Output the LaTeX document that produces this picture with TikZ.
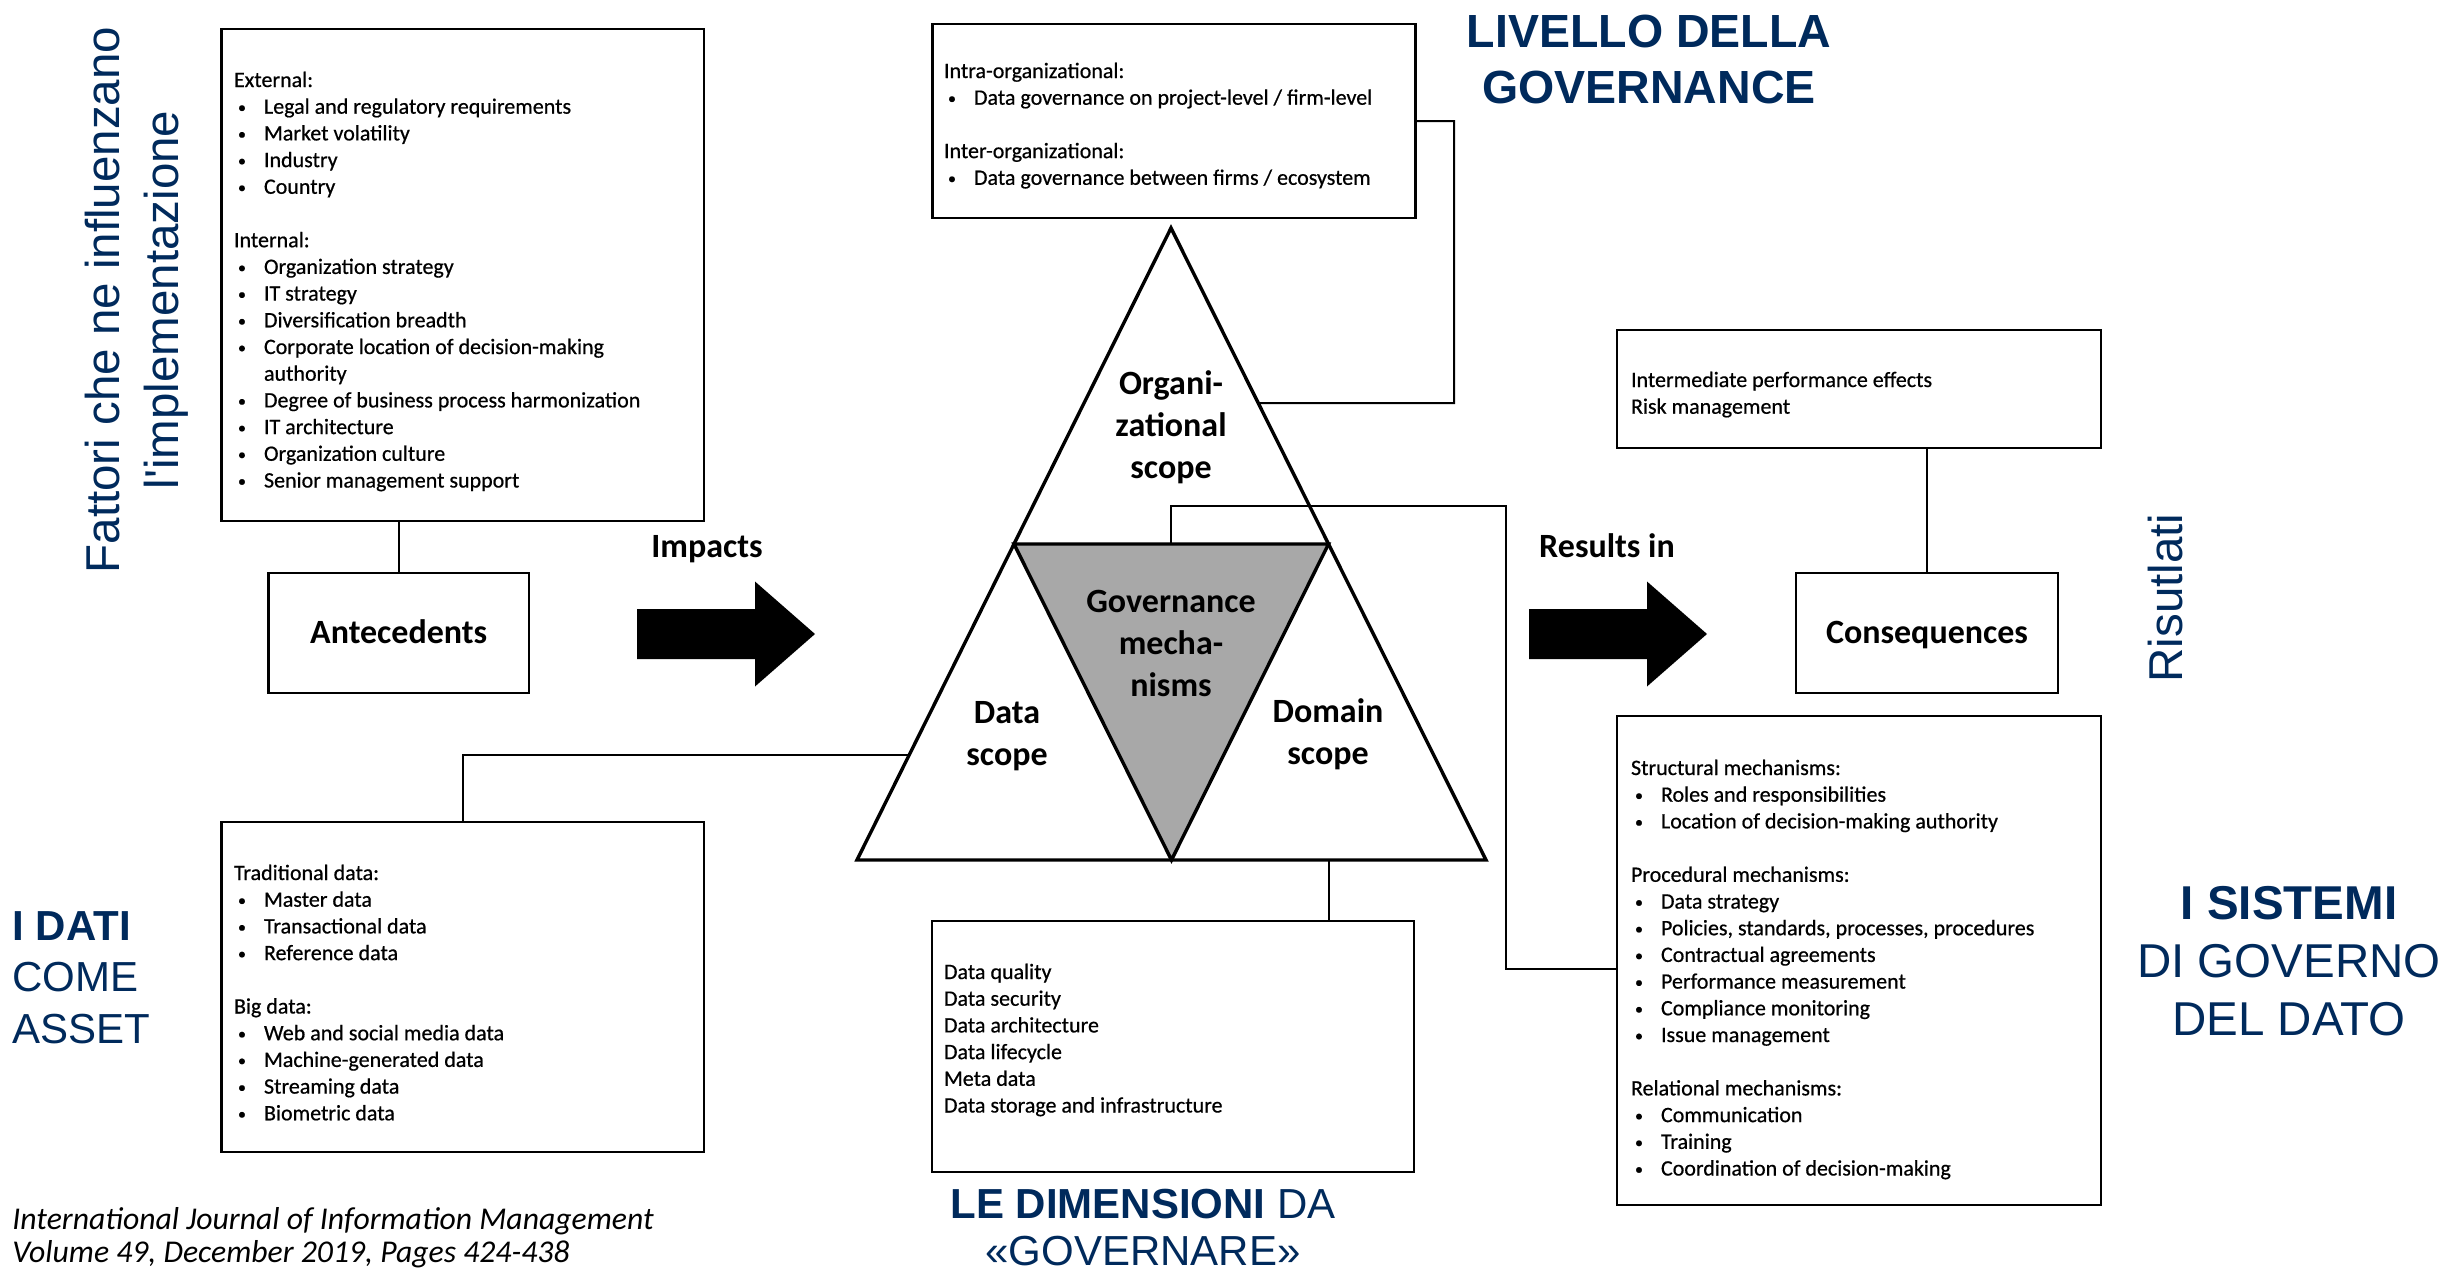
\documentclass[tikz,border=0pt]{standalone}
\usepackage{fontspec}
\setmainfont{Carlito}
\newfontfamily\arialfont{Liberation Sans}
\newfontfamily\scanfont[FakeBold=0.6]{Carlito}
\usetikzlibrary{calc}

\definecolor{navy}{RGB}{0,42,92}
\definecolor{mechgray}{RGB}{168,168,168}

% list typesetting inside the framed boxes
\newcommand\listsize{\scanfont\fontsize{22}{26.7}\selectfont}
\newcommand\hdline[1]{\par\noindent#1}
\newcommand\bitem[1]{\par\noindent\hangindent=30pt\hangafter=1\makebox[30pt][l]{\hspace{4pt}\raisebox{1pt}{\fontsize{16}{16}\selectfont\textbullet}}#1}
\newcommand\gapline{\par\vspace{26.7pt}}
\newcommand\listbox[1]{\parbox[t]{460pt}{\listsize\raggedright#1}}
\newcommand\centerbox[2]{\parbox[t]{#1}{\centering#2}}

\tikzset{
  pics/blockarrow/.style={code={
    \fill[black] (0,-25) -- (118,-25) -- (118,-52.5) -- (178,0) -- (118,52.5) -- (118,25) -- (0,25) -- cycle;}}
}

\begin{document}
\begin{tikzpicture}[x=1pt,y=-1pt,
  box/.style={draw=black, line width=2.6pt, inner sep=0pt, outer sep=0pt},
  link/.style={draw=black, line width=2pt},
  tri/.style={draw=black, line width=3.4pt, line join=miter},
  txt/.style={inner sep=0pt, outer sep=0pt, anchor=base west},
  lbl/.style={inner sep=0pt, outer sep=0pt, anchor=base, font=\fontsize{34}{42}\selectfont\bfseries},
  navytxt/.style={inner sep=0pt, outer sep=0pt, text=navy}
]
\useasboundingbox (0,0) rectangle (2447,1269);
\fill[white] (0,0) rectangle (2447,1269);

% ---------- framed boxes ----------
\node[box, minimum width=482.4pt, minimum height=492pt] (antlist) at (462.8,275) {};
\node[box, minimum width=260.6pt, minimum height=120pt] (ante) at (398.7,633) {};
\node[box, minimum width=483pt, minimum height=194pt] (orgbox) at (1174,121) {};
\node[box, minimum width=484pt, minimum height=118pt] (interm) at (1859,389) {};
\node[box, minimum width=262pt, minimum height=120pt] (cons) at (1927,633) {};
\node[box, minimum width=484pt, minimum height=489pt] (mech) at (1859,960.5) {};
\node[box, minimum width=482.4pt, minimum height=330pt] (datab) at (462.8,987) {};
\node[box, minimum width=482pt, minimum height=251pt] (dimb) at (1173,1046.5) {};

% ---------- box contents ----------
\node[txt] (antlisttxt) at (234,87) {\listbox{%
  \hdline{External:}
  \bitem{Legal and regulatory requirements}
  \bitem{Market volatility}
  \bitem{Industry}
  \bitem{Country}
  \gapline
  \hdline{Internal:}
  \bitem{Organization strategy}
  \bitem{IT strategy}
  \bitem{Diversification breadth}
  \bitem{Corporate location of decision-making\newline authority}
  \bitem{Degree of business process harmonization}
  \bitem{IT architecture}
  \bitem{Organization culture}
  \bitem{Senior management support}}};

\node[txt] (orgtxt) at (944,78) {\listbox{%
  \hdline{Intra-organizational:}
  \bitem{Data governance on project-level / firm-level}
  \gapline
  \hdline{Inter-organizational:}
  \bitem{Data governance between firms / ecosystem}}};

\node[txt] (intermtxt) at (1631,387) {\listbox{%
  \hdline{Intermediate performance effects}
  \hdline{Risk management}}};

\node[txt] (mechtxt) at (1631,775) {\listbox{%
  \hdline{Structural mechanisms:}
  \bitem{Roles and responsibilities}
  \bitem{Location of decision-making authority}
  \gapline
  \hdline{Procedural mechanisms:}
  \bitem{Data strategy}
  \bitem{Policies, standards, processes, procedures}
  \bitem{Contractual agreements}
  \bitem{Performance measurement}
  \bitem{Compliance monitoring}
  \bitem{Issue management}
  \gapline
  \hdline{Relational mechanisms:}
  \bitem{Communication}
  \bitem{Training}
  \bitem{Coordination of decision-making}}};

\node[txt] (datatxt) at (234,880) {\listbox{%
  \hdline{Traditional data:}
  \bitem{Master data}
  \bitem{Transactional data}
  \bitem{Reference data}
  \gapline
  \hdline{Big data:}
  \bitem{Web and social media data}
  \bitem{Machine-generated data}
  \bitem{Streaming data}
  \bitem{Biometric data}}};

\node[txt] (dimtxt) at (944,979) {\listbox{%
  \hdline{Data quality}
  \hdline{Data security}
  \hdline{Data architecture}
  \hdline{Data lifecycle}
  \hdline{Meta data}
  \hdline{Data storage and infrastructure}}};

\node[lbl] (antelbl) at (398.7,643) {Antecedents};
\node[lbl] (conslbl) at (1927,643) {Consequences};

% ---------- triangle of scopes ----------
\coordinate (apex) at (1171,228);
\coordinate (bl) at (857,860);
\coordinate (br) at (1486,860);
\coordinate (L) at ($(apex)!0.5!(bl)$);
\coordinate (R) at ($(apex)!0.5!(br)$);
\coordinate (B) at ($(bl)!0.5!(br)$);
\fill[mechgray] (L) -- (R) -- (B) -- cycle;
\draw[tri] (apex) -- (bl) -- (br) -- cycle;
\draw[tri] (L) -- (R) -- (B) -- cycle;

\node[lbl] (orglbl) at (1171,394) {\centerbox{300pt}{Organi-\\zational\\scope}};
\node[lbl] (govlbl) at (1171,612) {\centerbox{300pt}{Governance\\mecha-\\nisms}};
\node[lbl] (datalbl) at (1007,723) {\centerbox{200pt}{Data\\scope}};
\node[lbl] (domlbl) at (1328,722) {\centerbox{200pt}{Domain\\scope}};

% ---------- block arrows ----------
\node[lbl] (impactslbl) at (707,557) {Impacts};
\pic (impacts) at (637,634) {blockarrow};
\node[lbl] (resultslbl) at (1607,557) {Results in};
\pic (resultsin) at (1529,634) {blockarrow};

% ---------- connectors ----------
\draw[link] (ante.north |- antlist.south) -- (ante.north);
\draw[link] (cons.north |- interm.south) -- (cons.north);

\coordinate (orgedge) at ($(apex)!0.277!(br)$);
\coordinate (orgturn) at (1454,403);
\draw[link] (orgbox.east) -| (orgturn) -- (orgedge);

\coordinate (dataedge) at ($(apex)!0.834!(bl)$);
\draw[link] (datab.north) |- (dataedge);

\coordinate (dimtop) at ($(B)!0.5!(br)$);
\draw[link] (dimtop) -- (dimtop |- dimb.north);

\coordinate (govtop) at ($(L)!0.5!(R)$);
\coordinate (govturn) at (1506,506);
\draw[link] (govtop) |- (govturn) |- ($(mech.west)+(0,8)$);

% ---------- side captions ----------
\node[navytxt, anchor=base, rotate=90, font=\arialfont\fontsize{47.5}{59}\selectfont] (factors) at (119,300)
  {\centerbox{700pt}{Fattori che ne influenzano\\l\textquotesingle implementazione}};
\node[navytxt, anchor=base, font=\arialfont\bfseries\fontsize{46.5}{56}\selectfont] (livello) at (1649,47)
  {\centerbox{500pt}{LIVELLO DELLA\\GOVERNANCE}};
\node[navytxt, anchor=base, rotate=90, font=\arialfont\fontsize{47.5}{59}\selectfont] (risultati) at (2182,598) {Risutlati};
\node[navytxt, anchor=base, font=\arialfont\fontsize{47.5}{58}\selectfont] (sistemi) at (2289,919)
  {\centerbox{400pt}{\textbf{I SISTEMI}\\DI GOVERNO\\DEL DATO}};
\node[navytxt, txt, font=\arialfont\fontsize{42}{51.5}\selectfont] (dati) at (12.5,940)
  {\parbox[t]{300pt}{\raggedright\textbf{I DATI}\\COME\\ASSET}};
\node[navytxt, anchor=base, font=\arialfont\fontsize{42}{47}\selectfont] (dimensioni) at (1143,1218)
  {\centerbox{600pt}{\textbf{LE DIMENSIONI} DA\\«GOVERNARE»}};

\node[txt, font=\itshape\fontsize{31.7}{33}\selectfont] (citation) at (12.5,1229)
  {\parbox[t]{900pt}{\raggedright International Journal of Information Management\\Volume 49, December 2019, Pages 424-438}};
\end{tikzpicture}
\end{document}
